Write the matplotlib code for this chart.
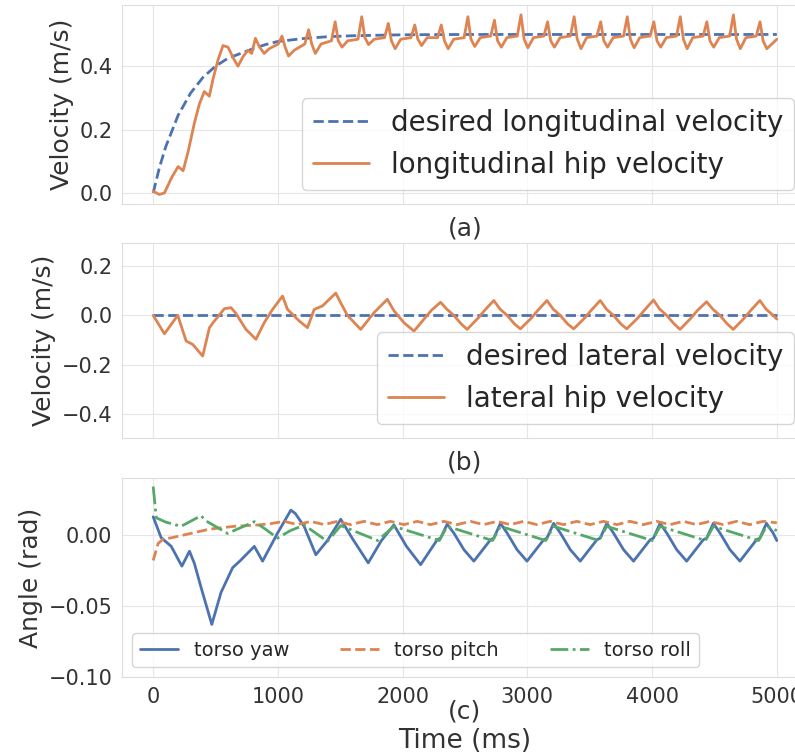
import matplotlib
matplotlib.use("Agg")
import matplotlib.pyplot as plt
import seaborn as sns

sns.set_style("whitegrid")
plt.rcParams['font.family'] = ['DejaVu Sans']

# ---------------- data ----------------
# (a) longitudinal
t_des_long = [0, 50, 100, 200, 300, 400, 500, 600, 700, 800, 900, 1000, 1200, 1400, 1600, 2000, 2500, 5000]
v_des_long = [0.0, 0.08, 0.145, 0.245, 0.315, 0.365, 0.40, 0.425, 0.44, 0.455, 0.468, 0.478, 0.487, 0.493, 0.496, 0.499, 0.5, 0.5]

t_hip_long = [0, 50, 90, 150, 200, 240, 280, 330, 370, 410, 450, 480, 520, 560, 600, 650, 680, 720, 760, 790,
              820, 850, 890, 930, 1003,
              1033, 1058, 1085, 1130, 1216,
              1246, 1271, 1300, 1346, 1429,
              1459, 1484, 1514, 1559, 1642,
              1672, 1697, 1727, 1772, 1855,
              1885, 1910, 1940, 1985, 2067,
              2097, 2122, 2152, 2197, 2280,
              2310, 2335, 2365, 2410, 2493,
              2523, 2548, 2578, 2623, 2706,
              2736, 2761, 2791, 2836, 2919,
              2949, 2974, 3004, 3049, 3132,
              3162, 3187, 3217, 3262, 3345,
              3375, 3400, 3430, 3475, 3558,
              3588, 3613, 3643, 3688, 3771,
              3801, 3826, 3856, 3901, 3984,
              4014, 4039, 4069, 4114, 4196,
              4226, 4251, 4281, 4326, 4409,
              4439, 4464, 4494, 4539, 4622,
              4652, 4677, 4707, 4752, 4835,
              4865, 4890, 4920, 4960, 5000]
v_hip_long = [0.005, -0.005, 0.0, 0.05, 0.083, 0.07, 0.13, 0.22, 0.28, 0.32, 0.305, 0.36, 0.42, 0.465, 0.46, 0.42, 0.40, 0.43, 0.45, 0.44,
              0.488, 0.462, 0.44, 0.455, 0.47,
              0.495, 0.46, 0.432, 0.45, 0.47,
              0.515, 0.47, 0.44, 0.47, 0.48,
              0.54, 0.48, 0.46, 0.48, 0.485,
              0.556, 0.49, 0.468, 0.485, 0.49,
              0.535, 0.48, 0.455, 0.485, 0.49,
              0.53, 0.485, 0.465, 0.49, 0.49,
              0.53, 0.48, 0.455, 0.485, 0.49,
              0.556, 0.485, 0.462, 0.49, 0.495,
              0.545, 0.48, 0.46, 0.49, 0.495,
              0.562, 0.485, 0.458, 0.49, 0.495,
              0.54, 0.48, 0.46, 0.49, 0.495,
              0.556, 0.485, 0.455, 0.49, 0.495,
              0.54, 0.48, 0.46, 0.49, 0.495,
              0.556, 0.485, 0.458, 0.49, 0.495,
              0.54, 0.48, 0.46, 0.49, 0.495,
              0.556, 0.485, 0.455, 0.49, 0.495,
              0.54, 0.48, 0.46, 0.49, 0.495,
              0.562, 0.485, 0.455, 0.49, 0.495,
              0.54, 0.48, 0.455, 0.47, 0.485]

# (b) lateral
t_des_lat = [0, 5000]
v_des_lat = [0.0, 0.0]

t_hip_lat = [0, 90, 197, 264, 317, 397, 451, 491, 571, 624, 660, 744, 824, 890, 957, 1037, 1077, 1171, 1237, 1291,
             1357, 1464, 1504, 1557, 1664, 1771, 1877, 1931, 2011,
             2091, 2180, 2230, 2304, 2354, 2410, 2470,
             2517, 2607, 2657, 2731, 2781, 2837, 2897,
             2944, 3034, 3084, 3157, 3207, 3263, 3323,
             3371, 3461, 3511, 3584, 3634, 3690, 3750,
             3797, 3887, 3937, 4011, 4061, 4117, 4177,
             4224, 4314, 4364, 4437, 4487, 4543, 4603,
             4651, 4741, 4791, 4864, 4914, 4970, 5000]
v_hip_lat = [0.0, -0.075, 0.0, -0.104, -0.118, -0.165, -0.05, -0.023, 0.027, 0.031, 0.01, -0.057, -0.097, -0.03, 0.024, 0.078, 0.024, -0.023, -0.05, 0.024,
             0.038, 0.09, 0.05, 0.0, -0.057, 0.011, 0.065, 0.018, -0.03,
             -0.064, -0.01, 0.02, 0.053, 0.025, 0.0, -0.035,
             -0.057, -0.01, 0.02, 0.06, 0.025, 0.0, -0.035,
             -0.055, -0.01, 0.02, 0.06, 0.025, 0.0, -0.035,
             -0.055, -0.01, 0.02, 0.06, 0.025, 0.0, -0.035,
             -0.055, -0.01, 0.02, 0.062, 0.025, 0.0, -0.035,
             -0.057, -0.01, 0.02, 0.055, 0.025, 0.0, -0.035,
             -0.057, -0.01, 0.02, 0.06, 0.025, 0.0, -0.015]

# (c) torso angles
t_yaw = [0, 64, 144, 230, 291, 330, 384, 470, 544, 637, 700, 811, 877, 997, 1104, 1140, 1211, 1304, 1397, 1504,
         1600, 1724, 1830, 1930, 2030,
         2144, 2277, 2304, 2357, 2411, 2491,
         2571, 2704, 2731, 2784, 2838, 2917,
         2997, 3130, 3157, 3211, 3265, 3344,
         3424, 3557, 3584, 3637, 3691, 3771,
         3851, 3984, 4011, 4064, 4118, 4197,
         4277, 4410, 4437, 4491, 4545, 4624,
         4704, 4837, 4864, 4917, 4971, 5000]
v_yaw = [0.0127, -0.002, -0.008, -0.022, -0.0115, -0.02, -0.037, -0.063, -0.0405, -0.0231, -0.018, -0.0081, -0.0185, 0.0012, 0.0174, 0.015, 0.0058, -0.014, -0.004, 0.011,
         -0.003, -0.0197, -0.004, 0.007, -0.008,
         -0.021, -0.0035, -0.0023, 0.0075, 0.0012, -0.0104,
         -0.0185, -0.0035, -0.0023, 0.0081, 0.0012, -0.0104,
         -0.0185, -0.0035, -0.0023, 0.0081, 0.0012, -0.0104,
         -0.0185, -0.0035, -0.0023, 0.0081, 0.0012, -0.0104,
         -0.0185, -0.0035, -0.0023, 0.0081, 0.0012, -0.0104,
         -0.0185, -0.0035, -0.0023, 0.0081, 0.0012, -0.0104,
         -0.0185, -0.0035, -0.0023, 0.0081, 0.0012, -0.004]

t_pitch = [0, 40, 80, 150, 250, 350, 450, 550, 650, 750, 850, 950,
           1050, 1157, 1263, 1370, 1477, 1583, 1690, 1797, 1903, 2010, 2117, 2223, 2330, 2437, 2543, 2650,
           2757, 2863, 2970, 3077, 3183, 3290, 3397, 3503, 3610, 3717, 3823, 3930, 4037, 4143, 4250, 4357,
           4463, 4570, 4677, 4783, 4890, 5000]
v_pitch = [-0.018, -0.006, -0.003, -0.002, 0.0, 0.002, 0.004, 0.005, 0.006, 0.0065, 0.007, 0.008,
           0.0095, 0.0072, 0.0095, 0.0072, 0.0095, 0.0072, 0.0095, 0.0072, 0.0095, 0.0072, 0.0095, 0.0072, 0.0095, 0.0072, 0.0095, 0.0072,
           0.0095, 0.0072, 0.0095, 0.0072, 0.0095, 0.0072, 0.0095, 0.0072, 0.0095, 0.0072, 0.0095, 0.0072, 0.0095, 0.0072, 0.0095, 0.0072,
           0.0095, 0.0072, 0.0095, 0.0072, 0.0095, 0.0085]

t_roll = [0, 25, 100, 224, 384, 420, 597, 700, 811, 900, 997, 1100, 1211, 1397, 1504, 1800, 1930,
          2294, 2357, 2721, 2784, 3147, 3211, 3574, 3637, 4001, 4064, 4428, 4491, 4854, 4917, 5000]
v_roll = [0.034, 0.012, 0.009, 0.006, 0.0135, 0.01, 0.001, 0.005, 0.0093, 0.004, -0.0023, 0.003, 0.0069, -0.0046, 0.0065, -0.004, 0.006,
          -0.004, 0.006, -0.004, 0.006, -0.004, 0.006, -0.004, 0.006, -0.004, 0.006, -0.004, 0.006, -0.004, 0.006, 0.003]

xticks = [0, 1000, 2000, 3000, 4000, 5000]

BLUE = '#4C72B0'
ORANGE = '#DD8452'
GREEN = '#55A868'

W, H = 795, 754
fig = plt.figure(figsize=(W / 100, H / 100), dpi=100)

def axpos(left, right, top, bottom):
    return [left / W, 1 - bottom / H, (right - left) / W, (bottom - top) / H]

ax1 = fig.add_axes(axpos(122, 808, 5, 204))
ax2 = fig.add_axes(axpos(122, 808, 243, 438))
ax3 = fig.add_axes(axpos(122, 808, 478, 677))

LW = 2.0
TICK_FS = 15
YLAB_FS = 18
XLAB_FS = 18

ax1.plot(t_des_long, v_des_long, color=BLUE, ls='--', lw=LW, label='desired longitudinal velocity')
ax1.plot(t_hip_long, v_hip_long, color=ORANGE, ls='-', lw=LW, label='longitudinal hip velocity')
ax1.set_ylim(-0.035, 0.593)
ax1.set_yticks([0.0, 0.2, 0.4])
ax1.set_ylabel('Velocity (m/s)', fontsize=YLAB_FS)
ax1.set_xlabel('(a)', fontsize=XLAB_FS, labelpad=2)
ax1.legend(loc='lower right', fontsize=20)

ax2.plot(t_des_lat, v_des_lat, color=BLUE, ls='--', lw=LW, label='desired lateral velocity')
ax2.plot(t_hip_lat, v_hip_lat, color=ORANGE, ls='-', lw=LW, label='lateral hip velocity')
ax2.set_ylim(-0.497, 0.293)
ax2.set_yticks([-0.4, -0.2, 0.0, 0.2])
ax2.set_ylabel('Velocity (m/s)', fontsize=YLAB_FS)
ax2.set_xlabel('(b)', fontsize=XLAB_FS, labelpad=2)
ax2.legend(loc='lower right', fontsize=20)

ax3.plot(t_yaw, v_yaw, color=BLUE, ls='-', lw=LW, label='torso yaw')
ax3.plot(t_pitch, v_pitch, color=ORANGE, ls='--', lw=LW, label='torso pitch')
ax3.plot(t_roll, v_roll, color=GREEN, ls='-.', lw=LW, label='torso roll')
ax3.set_ylim(-0.1, 0.04)
ax3.set_yticks([-0.10, -0.05, 0.00])
ax3.set_yticklabels(['\u22120.10', '\u22120.05', '0.00'])
ax3.set_ylabel('Angle (rad)', fontsize=YLAB_FS)
ax3.set_xlabel('(c)', fontsize=XLAB_FS, labelpad=-5)
ax3.legend(loc='lower left', fontsize=14, ncol=3, columnspacing=2.6)

for ax in (ax1, ax2, ax3):
    ax.set_xlim(-250, 5250)
    ax.set_xticks(xticks)
    ax.tick_params(labelsize=TICK_FS, colors='#333333')
    ax.yaxis.label.set_color('#333333')
    ax.xaxis.label.set_color('#333333')
    for s in ax.spines.values():
        s.set_color('#dddddd')
    ax.grid(color='#e6e6e6')
ax1.set_xticklabels([])
ax2.set_xticklabels([])

fig.text(465 / W, 1 - 741 / H, 'Time (ms)', ha='center', va='center', fontsize=19, color='#333333')

fig.savefig('out.png', dpi=100)
